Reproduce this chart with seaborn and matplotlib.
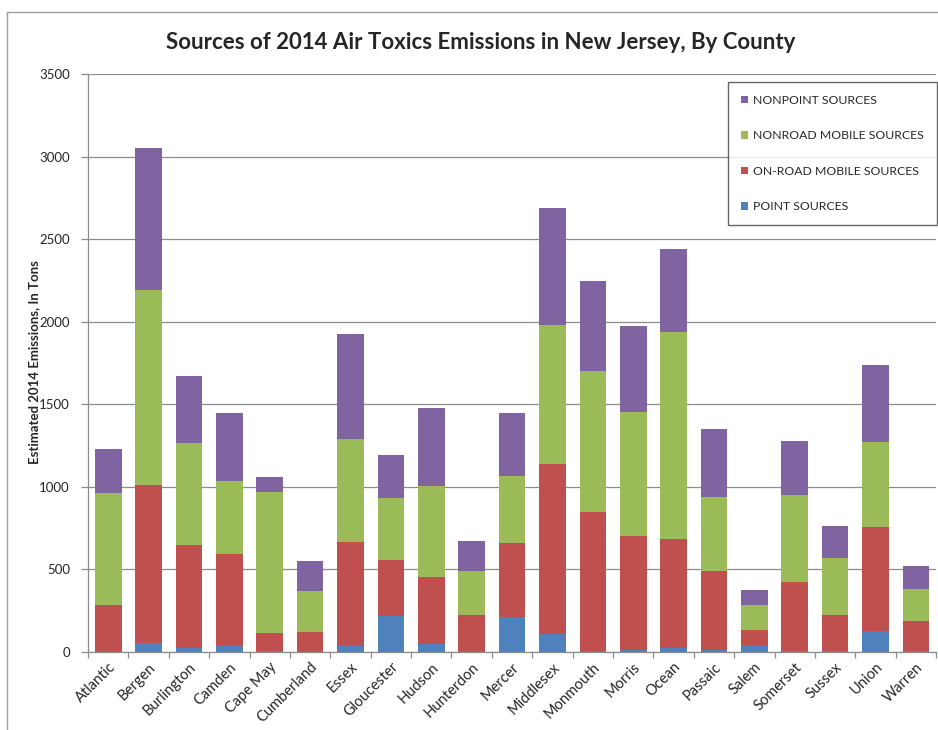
import numpy as np
import pandas as pd
import matplotlib
matplotlib.use("Agg")
import matplotlib.pyplot as plt
from matplotlib.lines import Line2D
import seaborn as sns

# =========================
# DATA (tons)
# =========================

counties = ["Atlantic", "Bergen", "Burlington", "Camden", "Cape May", "Cumberland",
            "Essex", "Gloucester", "Hudson", "Hunterdon", "Mercer", "Middlesex",
            "Monmouth", "Morris", "Ocean", "Passaic", "Salem", "Somerset",
            "Sussex", "Union", "Warren"]

point_sources = [0, 53, 23, 35, 2, 0, 35, 216, 49, 0, 209, 109,
                 3, 10, 20, 8, 34, 5, 2, 125, 3]
onroad_sources = [283, 955, 626, 556, 112, 118, 630, 338, 403, 223, 452, 1031,
                  843, 690, 664, 483, 97, 419, 220, 633, 183]
nonroad_sources = [679, 1182, 614, 445, 853, 248, 622, 378, 552, 268, 405, 842,
                   858, 753, 1252, 448, 152, 526, 344, 515, 194]
nonpoint_sources = [267, 863, 408, 410, 92, 186, 639, 262, 473, 179, 383, 705,
                    542, 520, 503, 408, 91, 329, 196, 465, 139]

series_names = ["POINT SOURCES", "ON-ROAD MOBILE SOURCES",
                "NONROAD MOBILE SOURCES", "NONPOINT SOURCES"]
series_colors = ["#4F81BD", "#C0504D", "#9BBB59", "#8064A2"]

# =========================
# STACK (cumulative tops)
# =========================

stack = np.cumsum([point_sources, onroad_sources, nonroad_sources, nonpoint_sources], axis=0)
df = pd.DataFrame({"County": counties})
for name, top in zip(series_names, stack):
    df[name] = top

# =========================
# PLOT
# =========================

sns.set_theme(style="white")
plt.rcParams["font.family"] = ["Lato", "DejaVu Sans"]

fig = plt.figure(figsize=(9.38, 7.30), dpi=100)
ax = fig.add_axes([0.0938, 0.1073, 0.9042, 0.7909])

# tallest layer first, smaller ones drawn over it
for name, color in list(zip(series_names, series_colors))[::-1]:
    sns.barplot(data=df, x="County", y=name, color=color, width=0.66,
                saturation=1, label=name, linewidth=0, edgecolor="none", ax=ax)

ax.set_ylim(0, 3500)
ax.set_xlim(-0.5, len(counties) - 0.5)
ax.set_yticks(range(0, 3501, 500))
ax.yaxis.grid(True, color="#8c8c8c", linewidth=0.9)
ax.set_axisbelow(True)

for side in ["top", "right"]:
    ax.spines[side].set_visible(False)
for side in ["left", "bottom"]:
    ax.spines[side].set_color("#8c8c8c")
    ax.spines[side].set_linewidth(0.9)

ax.tick_params(axis="y", which="major", direction="out", length=5, width=0.9,
               color="#8c8c8c", left=True, labelsize=9.5, pad=8)
ax.set_xticks(np.arange(len(counties)))
ax.set_xticklabels(counties, rotation=45, ha="right", rotation_mode="anchor")
ax.tick_params(axis="x", which="major", length=0, labelsize=10.5, pad=6)
ax.set_xticks(np.arange(-0.5, len(counties)), minor=True)
ax.tick_params(axis="x", which="minor", direction="out", length=4, width=0.9,
               color="#8c8c8c", bottom=True)

ax.set_xlabel("")
ax.set_ylabel("")
fig.text(34 / 938, 1 - 362 / 730, "Estimated 2014 Emissions, In Tons", rotation=90,
         ha="center", va="center", fontsize=9.5, fontweight="bold")

fig.text(0.512, 0.942, "Sources of 2014 Air Toxics Emissions in New Jersey, By County",
         ha="center", va="center", fontsize=16, fontweight="bold")

leg = ax.legend(loc="upper left", bbox_to_anchor=(728 / 938, 1 - 82 / 730, 209 / 938, 0),
                bbox_transform=fig.transFigure, mode="expand", borderaxespad=0,
                fontsize=8.8, frameon=True, fancybox=False, shadow=False,
                handlelength=0.55, handleheight=0.55, handletextpad=0.45,
                labelspacing=2.0, borderpad=1.05)
leg.get_frame().set_edgecolor("#404040")
leg.get_frame().set_linewidth(1.0)

# outer chart border (cut off on right / bottom like the reference)
fig.add_artist(Line2D([7 / 938, 1], [1 - 12 / 730, 1 - 12 / 730], color="#a0a0a0", lw=1))
fig.add_artist(Line2D([7 / 938, 7 / 938], [0, 1 - 12 / 730], color="#a0a0a0", lw=1))

fig.savefig("out.png", dpi=100)
